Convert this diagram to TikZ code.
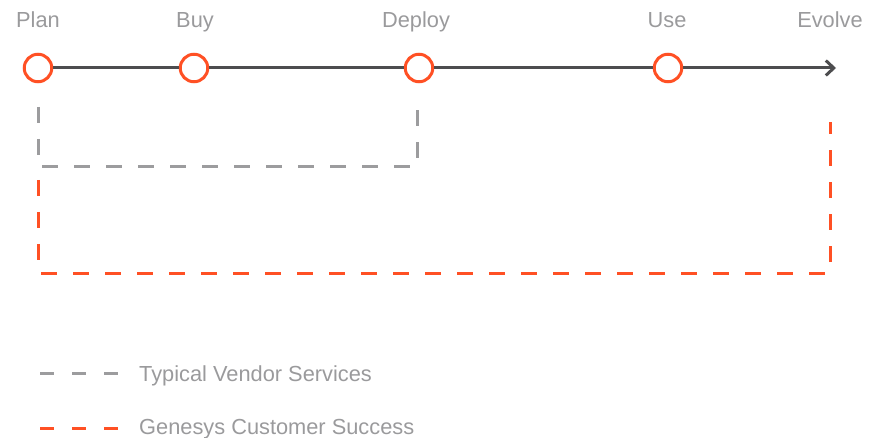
\documentclass[tikz,border=0pt]{standalone}
\usepackage{fontspec}
\setmainfont{Liberation Sans}
\usetikzlibrary{arrows.meta}
\definecolor{orng}{HTML}{FF5024}
\definecolor{dgray}{HTML}{4D4D4F}
\definecolor{lgray}{HTML}{9C9C9E}
\definecolor{tgray}{HTML}{9A9A9C}
\begin{document}
\begin{tikzpicture}[x=1pt,y=-1pt,
  stage/.style={circle,draw=orng,line width=3pt,fill=white,minimum size=27.5pt,inner sep=0pt},
  lbl/.style={text=tgray,font=\fontsize{21.8}{24}\selectfont,anchor=base,inner sep=0pt},
  timeline/.style={draw=dgray,line width=3pt},
  vendor/.style={draw=lgray,line width=3pt,dash pattern=on 16pt off 16pt},
  genesys/.style={draw=orng,line width=3pt,dash pattern=on 16pt off 16pt},
  legvendor/.style={draw=lgray,line width=3pt,dash pattern=on 14pt off 18pt},
  leggenesys/.style={draw=orng,line width=3pt,dash pattern=on 14pt off 18pt}]
\useasboundingbox (0,0) rectangle (880,438);
% stages
\node[stage] (plan) at (38,68) {};
\node[stage] (buy) at (194,68) {};
\node[stage] (deploy) at (419,68) {};
\node[stage] (use) at (668,68) {};
\coordinate (evolve) at (836,68);
% timeline
\draw[timeline] (plan) -- (buy);
\draw[timeline] (buy) -- (deploy);
\draw[timeline] (deploy) -- (use);
\draw[timeline,-{Straight Barb[length=8pt,width=15pt,line width=3pt]}] (use) -- (evolve);
% labels
\node[lbl] (lplan) at (38,28) {Plan};
\node[lbl] (lbuy) at (195,28) {Buy};
\node[lbl] (ldeploy) at (416,28) {Deploy};
\node[lbl] (luse) at (667,28) {Use};
\node[lbl] (levolve) at (830,28) {Evolve};
% vendor bracket
\coordinate (v1) at (38,107);
\coordinate (v2) at (417,110);
\draw[vendor] (v1) |- (v2 |- 0,167) -- (v2);
% genesys bracket
\coordinate (g1) at (38,180);
\coordinate (g2) at (830,122);
\draw[genesys] (g1) |- (g2 |- 0,273) -- (g2);
% legend
\coordinate (la1) at (40,373);
\coordinate (la2) at (119,373);
\coordinate (lb1) at (40,428);
\coordinate (lb2) at (119,428);
\draw[legvendor] (la1) -- (la2);
\draw[leggenesys] (lb1) -- (lb2);
\node[lbl,anchor=base west] (tv) at (139,381.5) {Typical Vendor Services};
\node[lbl,anchor=base west] (tg) at (139,434) {Genesys Customer Success};
\end{tikzpicture}
\end{document}
